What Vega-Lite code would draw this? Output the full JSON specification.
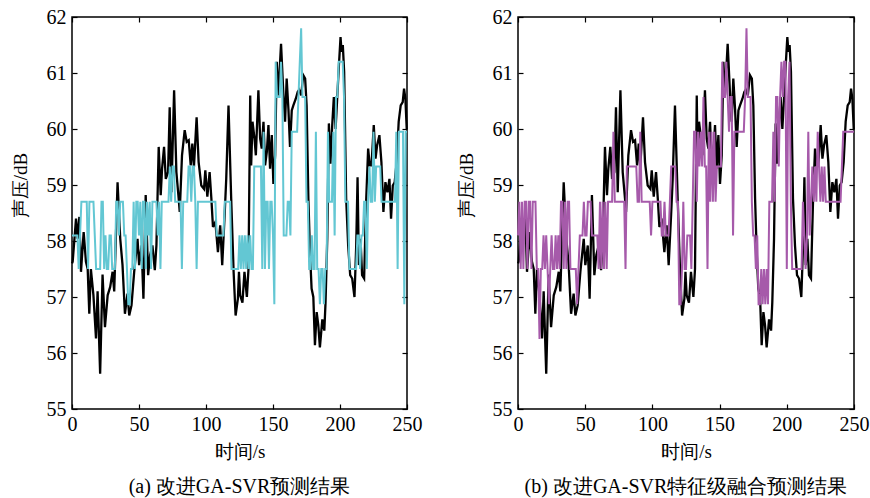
{
"$schema": "https://vega.github.io/schema/vega-lite/v6.json",
"padding": {"left": 10, "top": 6, "right": 0, "bottom": 5},
"background": "white",
"spacing": 33,
"config": {
  "font": "Liberation Serif",
  "view": {"stroke": "black", "strokeWidth": 1.5},
  "axis": {"domain": false, "grid": false, "tickColor": "black", "tickSize": -5, "tickWidth": 1.2, "labelFlush": false,
    "labelFont": "Liberation Serif", "labelFontSize": 20, "labelColor": "black",
    "titleFont": "Liberation Serif", "titleFontSize": 19, "titleFontWeight": "normal", "titleColor": "#000000"},
  "title": {"font": "Liberation Serif", "fontSize": 20, "fontWeight": "normal", "color": "black"}
},
"datasets": {
"actual": [
{"t":0,"v":57.6},{"t":0.5,"v":57.63},{"t":3,"v":58.4},{"t":4.2,"v":58.04},{"t":5.5,"v":58.43},{"t":6.7,"v":57.45},{"t":8.7,"v":58.16},{"t":10.4,"v":57.63},{"t":11.7,"v":57.5},{"t":12.9,"v":56.7},{"t":14.1,"v":57.5},{"t":16,"v":57.03},{"t":17.9,"v":56.26},{"t":19.1,"v":57.1},{"t":21,"v":55.63},{"t":22.8,"v":57.4},{"t":24.6,"v":56.46},{"t":26.6,"v":57.03},{"t":28.5,"v":57.18},{"t":30.3,"v":57.45},{"t":31.5,"v":57.1},{"t":34,"v":59.05},{"t":36,"v":58.04},{"t":37.7,"v":57.57},{"t":39.5,"v":56.7},{"t":41.4,"v":57.06},{"t":42.7,"v":56.67},{"t":44.4,"v":56.85},{"t":46.4,"v":57.45},{"t":48.9,"v":58.04},{"t":50.1,"v":57.57},{"t":51.9,"v":57.92},{"t":53.3,"v":56.97},{"t":55,"v":58.82},{"t":56.8,"v":57.39},{"t":58.3,"v":57.75},{"t":60,"v":57.92},{"t":61.8,"v":57.48},
{"t":63,"v":57.92},{"t":64.7,"v":59.68},{"t":66.2,"v":58.82},{"t":67.2,"v":59.29},{"t":68.7,"v":59.68},{"t":70,"v":59.11},{"t":71.7,"v":59.23},{"t":72.9,"v":60.39},{"t":74.2,"v":58.87},{"t":76.2,"v":60.69},{"t":77.9,"v":59.23},{"t":79.6,"v":58.76},{"t":80.4,"v":58.52},{"t":82.1,"v":59.53},{"t":84.1,"v":59.98},{"t":85.6,"v":59.77},{"t":87.1,"v":59.8},{"t":88.6,"v":59.35},{"t":89.8,"v":59.74},{"t":91,"v":59.32},{"t":93,"v":60.21},{"t":94.5,"v":59.41},{"t":96.5,"v":58.99},{"t":98.5,"v":58.93},{"t":99.5,"v":59.26},{"t":101,"v":58.79},{"t":102.7,"v":59.23},{"t":104,"v":58.76},{"t":105.2,"v":58.25},{"t":107,"v":58.34},{"t":108.9,"v":57.8},{"t":110.6,"v":58.28},{"t":112.1,"v":57.57},{"t":113.9,"v":58.46},{"t":115.1,"v":59.11},{"t":116.8,"v":60.42},{"t":118.8,"v":58.76},{"t":120.6,"v":57.45},{"t":122.1,"v":56.67},{"t":123.8,"v":56.97},
{"t":124.6,"v":57.45},{"t":125.5,"v":57.03},{"t":127.2,"v":56.9},{"t":128.7,"v":57.45},{"t":130.5,"v":57.0},{"t":131.7,"v":57.5},{"t":133,"v":60.6},{"t":133.7,"v":59.35},{"t":134.7,"v":60.13},{"t":136.2,"v":59.83},{"t":137.2,"v":59.53},{"t":139.1,"v":60.69},{"t":140.4,"v":59.83},{"t":141.6,"v":59.65},{"t":142.9,"v":60.13},{"t":144.1,"v":59.35},{"t":145.4,"v":59.59},{"t":146.6,"v":60.07},{"t":147.8,"v":59.29},{"t":149.1,"v":59.89},{"t":150.3,"v":59.02},{"t":151.6,"v":59.53},{"t":152.8,"v":61.2},{"t":154,"v":60.6},{"t":156,"v":61.52},{"t":157.8,"v":60.6},{"t":159,"v":60.13},{"t":160.2,"v":60.9},{"t":161.5,"v":60.36},{"t":162.7,"v":59.68},{"t":164,"v":60.33},{"t":165.2,"v":60.42},{"t":167,"v":60.54},{"t":168.4,"v":60.66},{"t":169.5,"v":60.7},{"t":171,"v":60.6},{"t":172.6,"v":60.96},{"t":174,"v":60.9},{"t":175.1,"v":60.42},{"t":176.4,"v":58.76},{"t":177.6,"v":57.8},{"t":178.8,"v":57.15},{"t":180.1,"v":57.0},{"t":181.3,"v":56.14},{"t":182.6,"v":56.73},{"t":183.8,"v":56.5},{"t":185,"v":56.1},{"t":186.8,"v":56.6},{"t":188.3,"v":56.4},
{"t":189.2,"v":56.9},{"t":190.5,"v":58.04},{"t":191.7,"v":60.1},{"t":192.9,"v":59.38},{"t":194.2,"v":60.07},{"t":195.4,"v":60.57},{"t":196.7,"v":60.0},{"t":197.9,"v":60.54},{"t":199.2,"v":61.14},{"t":200.4,"v":61.64},{"t":201.2,"v":61.38},{"t":202.1,"v":61.5},{"t":203.1,"v":61.02},{"t":204.6,"v":58.76},{"t":206.1,"v":57.92},{"t":207.6,"v":57.39},{"t":209.1,"v":57.33},{"t":210.8,"v":57.0},{"t":212.1,"v":57.92},{"t":213.1,"v":59.14},{"t":214.1,"v":57.57},{"t":215.3,"v":58.04},{"t":216.5,"v":57.39},{"t":218,"v":57.33},{"t":219.5,"v":58.7},{"t":221,"v":59.65},{"t":222.2,"v":59.35},{"t":223.5,"v":59.35},{"t":225.2,"v":60.07},{"t":226.5,"v":59.47},{"t":227.7,"v":59.71},{"t":229.4,"v":59.89},{"t":230.9,"v":59.41},{"t":232.4,"v":58.52},{"t":233.9,"v":59.05},{"t":235.4,"v":58.87},{"t":236.9,"v":59.11},{"t":238.1,"v":58.4},{"t":239.4,"v":58.99},{"t":240.8,"v":59.05},{"t":242.3,"v":59.41},{"t":243.8,"v":60.13},{"t":245.3,"v":60.42},{"t":246.8,"v":60.48},{"t":247.8,"v":60.72},{"t":248.8,"v":60.54},{"t":249.8,"v":60.0}
],
"predA": [
{"t":0,"v":58.1},{"t":1,"v":58.1},{"t":2,"v":58.1},{"t":3,"v":58.1},{"t":4,"v":58.1},{"t":5,"v":57.5},{"t":6,"v":58.1},{"t":7,"v":58.7},{"t":8,"v":58.7},{"t":9,"v":58.7},{"t":10,"v":58.7},{"t":11,"v":58.7},{"t":12,"v":57.5},{"t":13,"v":58.7},{"t":14,"v":58.7},{"t":15,"v":58.7},{"t":16,"v":58.7},{"t":17,"v":58.1},{"t":18,"v":57.5},{"t":19,"v":57.5},{"t":20,"v":57.5},{"t":21,"v":57.5},{"t":22,"v":58.7},{"t":23,"v":58.7},{"t":24,"v":57.5},{"t":25,"v":58.1},{"t":26,"v":57.5},{"t":27,"v":57.5},{"t":28,"v":58.1},{"t":29,"v":58.1},{"t":30,"v":57.5},{"t":31,"v":57.5},{"t":32,"v":57.5},{"t":33,"v":58.7},{"t":34,"v":58.7},{"t":35,"v":58.1},{"t":36,"v":58.7},{"t":37,"v":58.7},{"t":38,"v":58.7},{"t":39,"v":58.1},{"t":40,"v":58.1},{"t":41,"v":57.5},{"t":42,"v":56.87},{"t":43,"v":56.87},{"t":44,"v":57.5},{"t":45,"v":57.5},{"t":46,"v":58.7},{"t":47,"v":57.5},{"t":48,"v":58.7},{"t":49,"v":58.7},{"t":50,"v":58.1},{"t":51,"v":58.7},{"t":52,"v":57.5},{"t":53,"v":58.7},{"t":54,"v":58.7},{"t":55,"v":57.5},{"t":56,"v":58.7},{"t":57,"v":58.1},{"t":58,"v":58.7},{"t":59,"v":57.5},{"t":60,"v":58.7},{"t":61,"v":58.7},
{"t":62,"v":58.7},{"t":63,"v":58.7},{"t":64,"v":58.1},{"t":65,"v":58.7},{"t":66,"v":57.5},{"t":67,"v":58.7},{"t":68,"v":58.7},{"t":69,"v":58.7},{"t":70,"v":58.7},{"t":71,"v":58.7},{"t":72,"v":58.7},{"t":73,"v":59.33},{"t":74,"v":58.7},{"t":75,"v":59.33},{"t":76,"v":59.33},{"t":77,"v":58.7},{"t":78,"v":58.7},{"t":79,"v":58.7},{"t":80,"v":58.7},{"t":81,"v":58.7},{"t":82,"v":57.5},{"t":83,"v":58.7},{"t":84,"v":58.7},{"t":85,"v":58.7},{"t":86,"v":58.7},{"t":87,"v":59.33},{"t":88,"v":59.33},{"t":89,"v":58.7},{"t":90,"v":59.33},{"t":91,"v":59.33},{"t":92,"v":58.7},{"t":93,"v":57.5},{"t":94,"v":58.7},{"t":95,"v":58.7},{"t":100,"v":58.7},{"t":107,"v":58.7},{"t":108,"v":58.1},{"t":113,"v":58.1},{"t":114,"v":58.7},{"t":118,"v":58.7},{"t":119,"v":57.5},{"t":124,"v":57.5},
{"t":125,"v":58.1},{"t":126,"v":57.5},{"t":127,"v":58.1},{"t":128,"v":57.5},{"t":129,"v":58.1},{"t":130,"v":57.5},{"t":131,"v":58.1},{"t":132,"v":57.5},{"t":133,"v":58.1},{"t":134,"v":57.5},{"t":135,"v":57.5},{"t":136,"v":59.33},{"t":141,"v":59.33},{"t":142,"v":57.5},{"t":143,"v":59.95},{"t":144,"v":57.5},{"t":145,"v":58.7},{"t":146,"v":58.7},{"t":147,"v":57.5},{"t":148,"v":58.7},{"t":149,"v":58.7},{"t":150,"v":58.1},{"t":151,"v":56.87},{"t":152,"v":61.2},{"t":153,"v":60.57},{"t":154,"v":60.57},{"t":155,"v":60.57},{"t":156,"v":61.2},{"t":157,"v":60.57},{"t":158,"v":58.1},{"t":159,"v":58.1},{"t":160,"v":58.1},{"t":161,"v":58.7},{"t":162,"v":58.7},{"t":163,"v":58.1},{"t":164,"v":59.95},{"t":168,"v":59.95},{"t":169,"v":60.57},{"t":170,"v":61.2},{"t":171,"v":61.8},{"t":172,"v":60.57},{"t":173,"v":60.57},{"t":174,"v":60.57},{"t":175,"v":58.7},{"t":176,"v":58.7},{"t":177,"v":57.5},{"t":178,"v":57.5},{"t":179,"v":58.1},{"t":180,"v":57.5},{"t":181,"v":57.5},{"t":182,"v":59.95},{"t":183,"v":57.5},{"t":184,"v":57.5},{"t":185,"v":56.87},{"t":186,"v":57.5},{"t":187,"v":57.5},
{"t":188,"v":56.87},{"t":189,"v":57.5},{"t":190,"v":57.5},{"t":191,"v":59.95},{"t":192,"v":58.7},{"t":193,"v":58.7},{"t":194,"v":58.7},{"t":195,"v":59.95},{"t":196,"v":58.1},{"t":197,"v":60.57},{"t":198,"v":60.57},{"t":199,"v":61.2},{"t":202,"v":61.2},{"t":203,"v":60.57},{"t":204,"v":58.7},{"t":206,"v":58.7},{"t":207,"v":57.5},{"t":212,"v":57.5},{"t":213,"v":58.1},{"t":214,"v":58.1},{"t":215,"v":57.5},{"t":216,"v":58.1},{"t":217,"v":58.1},{"t":218,"v":58.7},{"t":219,"v":58.7},{"t":220,"v":57.5},{"t":221,"v":58.7},{"t":222,"v":59.33},{"t":223,"v":58.7},{"t":224,"v":58.7},{"t":225,"v":59.95},{"t":226,"v":58.7},{"t":227,"v":59.33},{"t":230,"v":59.33},{"t":231,"v":58.7},{"t":241,"v":58.7},{"t":242,"v":59.95},{"t":243,"v":57.5},{"t":244,"v":59.95},{"t":247,"v":59.95},{"t":248,"v":56.87},{"t":249,"v":59.95},{"t":250,"v":59.95}
],
"predB": [
{"t":0,"v":58.1},{"t":1,"v":58.7},{"t":2,"v":57.5},{"t":3,"v":58.7},{"t":4,"v":57.5},{"t":5,"v":58.7},{"t":6,"v":58.7},{"t":7,"v":57.5},{"t":8,"v":58.7},{"t":9,"v":58.7},{"t":10,"v":57.5},{"t":11,"v":58.7},{"t":12,"v":58.7},{"t":13,"v":58.7},{"t":14,"v":57.5},{"t":15,"v":57.5},{"t":16,"v":56.25},{"t":17,"v":57.5},{"t":18,"v":57.5},{"t":19,"v":58.1},{"t":20,"v":57.5},{"t":21,"v":58.1},{"t":22,"v":57.5},{"t":23,"v":56.87},{"t":24,"v":57.5},{"t":25,"v":58.1},{"t":26,"v":57.5},{"t":27,"v":57.5},{"t":28,"v":58.1},{"t":29,"v":57.5},{"t":30,"v":58.1},{"t":31,"v":57.5},{"t":32,"v":58.7},{"t":33,"v":58.7},{"t":34,"v":57.5},{"t":35,"v":58.7},{"t":36,"v":57.5},{"t":37,"v":58.7},{"t":38,"v":58.7},{"t":39,"v":57.5},{"t":43,"v":57.5},{"t":44,"v":56.87},{"t":45,"v":57.5},{"t":46,"v":58.1},{"t":48,"v":58.1},{"t":49,"v":58.7},{"t":50,"v":58.1},{"t":51,"v":58.1},{"t":52,"v":58.7},{"t":54,"v":58.7},{"t":55,"v":58.1},{"t":59,"v":58.1},{"t":60,"v":57.5},{"t":61,"v":58.7},{"t":62,"v":57.5},{"t":63,"v":58.7},{"t":64,"v":57.5},{"t":65,"v":58.7},{"t":66,"v":57.5},{"t":67,"v":58.7},{"t":70,"v":58.7},{"t":71,"v":59.95},{"t":72,"v":58.7},{"t":79,"v":58.7},{"t":80,"v":57.5},{"t":81,"v":59.33},{"t":88,"v":59.33},
{"t":89,"v":58.7},{"t":90,"v":58.7},{"t":91,"v":59.95},{"t":92,"v":58.7},{"t":98,"v":58.7},{"t":99,"v":58.1},{"t":100,"v":58.7},{"t":106,"v":58.7},{"t":107,"v":58.1},{"t":108,"v":58.1},{"t":109,"v":58.7},{"t":110,"v":58.1},{"t":112,"v":58.1},{"t":113,"v":58.7},{"t":114,"v":59.33},{"t":117,"v":59.33},{"t":118,"v":58.7},{"t":119,"v":58.7},{"t":120,"v":56.87},{"t":121,"v":56.87},{"t":122,"v":57.5},{"t":123,"v":58.7},{"t":124,"v":57.5},{"t":125,"v":57.5},{"t":126,"v":58.1},{"t":128,"v":58.1},{"t":129,"v":57.5},{"t":130,"v":58.7},{"t":131,"v":59.95},{"t":132,"v":59.95},{"t":133,"v":58.7},{"t":134,"v":59.95},{"t":135,"v":59.33},{"t":136,"v":59.95},{"t":137,"v":59.33},{"t":138,"v":60.57},{"t":139,"v":59.33},{"t":140,"v":59.33},{"t":141,"v":57.5},{"t":142,"v":59.95},{"t":143,"v":58.7},{"t":144,"v":59.95},{"t":145,"v":58.7},{"t":146,"v":59.95},{"t":147,"v":58.7},{"t":148,"v":59.33},{"t":151,"v":59.33},{"t":152,"v":61.2},{"t":153,"v":60.57},{"t":154,"v":60.57},{"t":155,"v":61.2},{"t":156,"v":60.57},{"t":157,"v":59.95},{"t":158,"v":60.57},{"t":159,"v":60.57},{"t":160,"v":58.1},{"t":161,"v":59.95},{"t":168,"v":59.95},
{"t":169,"v":60.57},{"t":170,"v":61.8},{"t":171,"v":60.57},{"t":173,"v":60.57},{"t":174,"v":58.7},{"t":175,"v":58.1},{"t":176,"v":58.1},{"t":177,"v":57.5},{"t":178,"v":58.1},{"t":179,"v":56.87},{"t":180,"v":56.87},{"t":181,"v":57.5},{"t":182,"v":56.87},{"t":183,"v":57.5},{"t":184,"v":56.87},{"t":185,"v":57.5},{"t":186,"v":56.87},{"t":187,"v":58.7},{"t":189,"v":58.7},{"t":190,"v":59.95},{"t":191,"v":58.7},{"t":192,"v":60.57},{"t":193,"v":60.57},{"t":194,"v":59.33},{"t":195,"v":60.57},{"t":196,"v":61.2},{"t":197,"v":60.57},{"t":198,"v":61.2},{"t":199,"v":61.2},{"t":200,"v":57.5},{"t":201,"v":60.57},{"t":202,"v":61.2},{"t":203,"v":58.7},{"t":204,"v":57.5},{"t":211,"v":57.5},{"t":212,"v":58.7},{"t":213,"v":58.1},{"t":214,"v":57.5},{"t":215,"v":58.1},{"t":216,"v":59.95},{"t":217,"v":58.1},{"t":218,"v":58.7},{"t":219,"v":59.33},{"t":220,"v":58.7},{"t":221,"v":59.33},{"t":222,"v":58.7},{"t":223,"v":59.95},{"t":224,"v":59.33},{"t":225,"v":58.7},{"t":226,"v":59.33},{"t":227,"v":58.7},{"t":228,"v":59.33},{"t":229,"v":58.7},{"t":240,"v":58.7},{"t":241,"v":59.33},{"t":242,"v":59.95},{"t":250,"v":59.95}
]
},
"hconcat": [
 {
  "width": 335, "height": 392,
  "title": {"text": "(a) 改进GA-SVR预测结果", "orient": "bottom", "offset": 16},
  "layer": [
   {"data": {"name": "actual"}, "mark": {"type": "line", "color": "black", "strokeWidth": 2.3},
    "encoding": {
     "x": {"field": "t", "type": "quantitative", "scale": {"domain": [0, 250], "nice": false},
           "axis": {"values": [0, 50, 100, 150, 200, 250], "title": "时间/s", "labelPadding": 10, "titlePadding": 8, "titleColor": "#000000"}},
     "y": {"field": "v", "type": "quantitative", "scale": {"domain": [55, 62], "nice": false, "zero": false},
           "axis": {"values": [55, 56, 57, 58, 59, 60, 61, 62], "title": "声压/dB", "labelPadding": 11, "titlePadding": 16, "titleY": 168, "titleColor": "#000000"}}
    }},
   {"data": {"name": "predA"}, "mark": {"type": "line", "color": "#63c7d3", "strokeWidth": 2},
    "encoding": {
     "x": {"field": "t", "type": "quantitative", "axis": {"orient": "top", "values": [0, 50, 100, 150, 200, 250], "labels": false, "title": null}},
     "y": {"field": "v", "type": "quantitative", "axis": {"orient": "right", "values": [55, 56, 57, 58, 59, 60, 61, 62], "labels": false, "title": null}}
    }}
  ],
  "resolve": {"axis": {"x": "independent", "y": "independent"}}
 },
 {
  "width": 336, "height": 392,
  "title": {"text": "(b) 改进GA-SVR特征级融合预测结果", "orient": "bottom", "offset": 16},
  "layer": [
   {"data": {"name": "actual"}, "mark": {"type": "line", "color": "black", "strokeWidth": 2.3},
    "encoding": {
     "x": {"field": "t", "type": "quantitative", "scale": {"domain": [0, 250], "nice": false},
           "axis": {"values": [0, 50, 100, 150, 200, 250], "title": "时间/s", "labelPadding": 10, "titlePadding": 8, "titleColor": "#000000"}},
     "y": {"field": "v", "type": "quantitative", "scale": {"domain": [55, 62], "nice": false, "zero": false},
           "axis": {"values": [55, 56, 57, 58, 59, 60, 61, 62], "title": "声压/dB", "labelPadding": 11, "titlePadding": 16, "titleY": 168, "titleColor": "#000000"}}
    }},
   {"data": {"name": "predB"}, "mark": {"type": "line", "color": "#a65aaa", "strokeWidth": 2},
    "encoding": {
     "x": {"field": "t", "type": "quantitative", "axis": {"orient": "top", "values": [0, 50, 100, 150, 200, 250], "labels": false, "title": null}},
     "y": {"field": "v", "type": "quantitative", "axis": {"orient": "right", "values": [55, 56, 57, 58, 59, 60, 61, 62], "labels": false, "title": null}}
    }}
  ],
  "resolve": {"axis": {"x": "independent", "y": "independent"}}
 }
]
}
